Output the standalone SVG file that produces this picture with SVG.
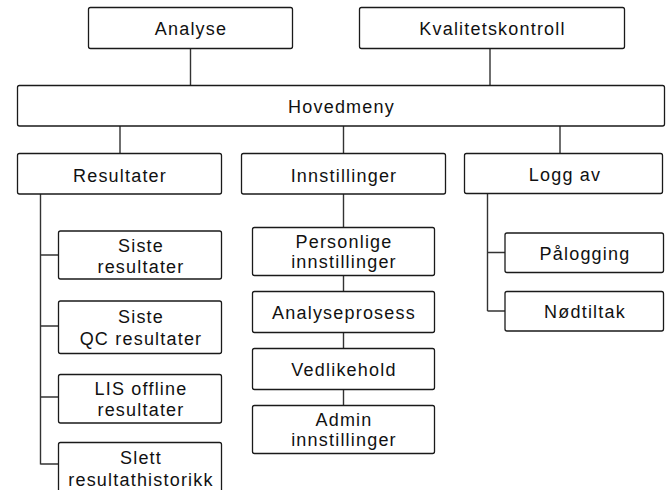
<svg xmlns="http://www.w3.org/2000/svg" width="667" height="490" viewBox="0 0 667 490">
<style>
.box{fill:#fff;stroke:#1a1a1a;stroke-width:1.3}
.lbl{font-family:"Liberation Sans",Arial,sans-serif;font-size:18px;letter-spacing:1.2px;fill:#111;text-anchor:middle}
.conn{stroke:#333;stroke-width:1.4;fill:none}
</style>
<rect width="667" height="490" fill="#fff"/>
<g id="connectors">
<path class="conn" d="M190.5 48.5V85.5M490 48.5V85.5M120 126V153.5M343.5 126V153.5M560 126V153.5"/>
<path class="conn" d="M40.5 194V464.5M40.5 255H58.5M40.5 326H58.5M40.5 397H58.5M40.5 464H58.5"/>
<path class="conn" d="M343.5 194V227.5M343.5 275.5V291.5M343.5 332.5V348.5M343.5 389.5V405.5"/>
<path class="conn" d="M487.5 193.5V311M487.5 252.5H505M487.5 311H505"/>
</g>
<g id="analyse"><rect class="box" x="88.5" y="7.5" width="204" height="41" rx="2"/><text class="lbl" x="191" y="35.3">Analyse</text></g>
<g id="kvalitetskontroll"><rect class="box" x="359.5" y="7.5" width="265" height="41" rx="2"/><text class="lbl" x="492.5" y="35.3">Kvalitetskontroll</text></g>
<g id="hovedmeny"><rect class="box" x="17.5" y="85.5" width="647" height="40.5" rx="2"/><text class="lbl" x="341.5" y="112.5">Hovedmeny</text></g>
<g id="resultater"><rect class="box" x="17.5" y="153.5" width="204" height="40.5" rx="2"/><text class="lbl" x="120" y="181.5">Resultater</text></g>
<g id="innstillinger"><rect class="box" x="241.5" y="153.5" width="204" height="40.5" rx="2"/><text class="lbl" x="344" y="181.5">Innstillinger</text></g>
<g id="logg-av"><rect class="box" x="464.5" y="153.5" width="198" height="40" rx="2"/><text class="lbl" x="565" y="180.5">Logg av</text></g>
<g id="siste-resultater"><rect class="box" x="58.5" y="231" width="163" height="48" rx="2"/><text class="lbl" x="141" y="251.5">Siste</text><text class="lbl" x="141" y="272.5">resultater</text></g>
<g id="siste-qc-resultater"><rect class="box" x="58.5" y="301" width="163" height="52.5" rx="2"/><text class="lbl" x="141" y="323">Siste</text><text class="lbl" x="141" y="344.5">QC resultater</text></g>
<g id="lis-offline-resultater"><rect class="box" x="58.5" y="374.5" width="163" height="48.5" rx="2"/><text class="lbl" x="141" y="395">LIS offline</text><text class="lbl" x="141" y="416">resultater</text></g>
<g id="slett-resultathistorikk"><rect class="box" x="58.5" y="442.5" width="163" height="50" rx="2"/><text class="lbl" x="141" y="463.5">Slett</text><text class="lbl" x="141" y="485.5">resultathistorikk</text></g>
<g id="personlige-innstillinger"><rect class="box" x="252.5" y="227.5" width="182" height="48" rx="2"/><text class="lbl" x="344" y="248">Personlige</text><text class="lbl" x="344" y="268">innstillinger</text></g>
<g id="analyseprosess"><rect class="box" x="252.5" y="291.5" width="182" height="41" rx="2"/><text class="lbl" x="344" y="319">Analyseprosess</text></g>
<g id="vedlikehold"><rect class="box" x="252.5" y="348.5" width="182" height="41" rx="2"/><text class="lbl" x="344" y="376">Vedlikehold</text></g>
<g id="admin-innstillinger"><rect class="box" x="252.5" y="405.5" width="182" height="48" rx="2"/><text class="lbl" x="344" y="426">Admin</text><text class="lbl" x="344" y="446">innstillinger</text></g>
<g id="palogging"><rect class="box" x="505" y="233" width="158.5" height="39.5" rx="2"/><text class="lbl" x="585" y="259.5">Pålogging</text></g>
<g id="nodtiltak"><rect class="box" x="505" y="291.5" width="158.5" height="39.5" rx="2"/><text class="lbl" x="585" y="318">Nødtiltak</text></g>
</svg>
